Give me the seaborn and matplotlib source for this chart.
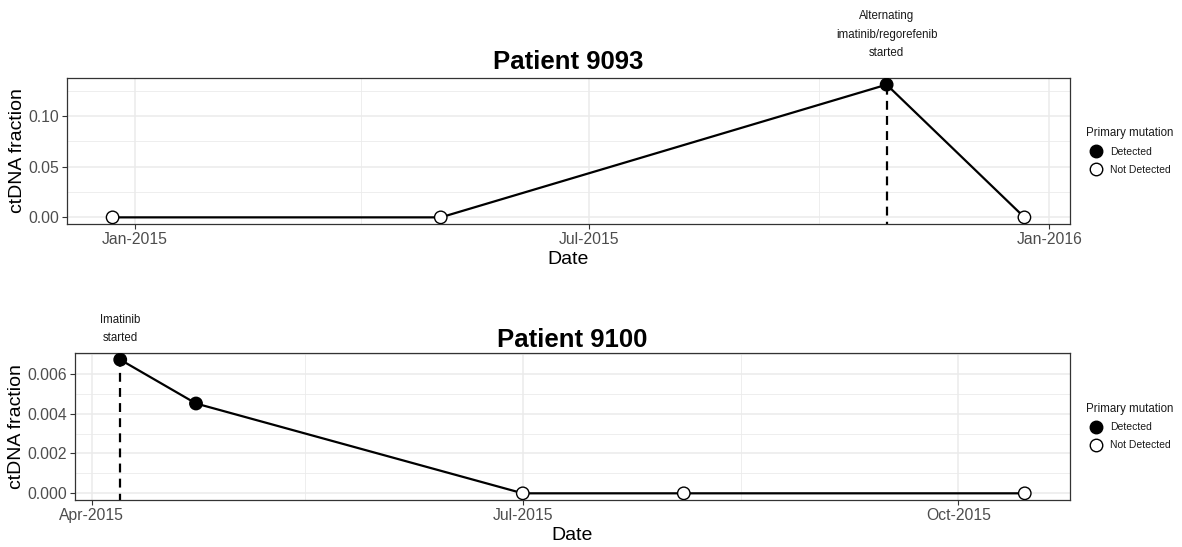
import matplotlib
matplotlib.use("Agg")
import matplotlib.pyplot as plt
import matplotlib.dates as mdates
from matplotlib.lines import Line2D
from matplotlib.ticker import FormatStrFormatter, MultipleLocator, FixedLocator
import numpy as np
import pandas as pd
import seaborn as sns

# ---- data ----
dates_9093 = ["2014-12-23", "2015-05-03", "2015-10-28", "2015-12-22"]
frac_9093 = [0.0, 0.0, 0.131, 0.0]
status_9093 = ["Not Detected", "Not Detected", "Detected", "Not Detected"]
event_9093_date = "2015-10-28"
event_9093_label = "Alternating\nimatinib/regorefenib\nstarted"

dates_9100 = ["2015-04-07", "2015-04-23", "2015-07-01", "2015-08-04", "2015-10-15"]
frac_9100 = [0.00671, 0.00451, 0.0, 0.0, 0.0]
status_9100 = ["Detected", "Detected", "Not Detected", "Not Detected", "Not Detected"]
event_9100_date = "2015-04-07"
event_9100_label = "Imatinib\nstarted"

xticks_9093 = ["2015-01-01", "2015-07-01", "2016-01-01"]
xminor_9093 = ["2015-04-01", "2015-10-01"]
xticks_9100 = ["2015-04-01", "2015-07-01", "2015-10-01"]
xminor_9100 = ["2015-05-16", "2015-08-16"]

sns.set_theme(style="white")
plt.rcParams["font.family"] = ["Liberation Sans", "DejaVu Sans"]
plt.rcParams["text.color"] = "black"

fig = plt.figure(figsize=(11.82, 5.47), dpi=100)
ax_top = fig.add_axes([67 / 1182, 1 - 224 / 547, 1003 / 1182, 146 / 547])
ax_bot = fig.add_axes([75 / 1182, 1 - 500 / 547, 995 / 1182, 147 / 547])

fill_palette = {"Detected": "black", "Not Detected": "white"}
grid_col = "#EBEBEB"


def draw_panel(ax, dates, fracs, status, ev_date, ev_label, title,
               ticks, minor, ystep, yfmt, title_y, label_y):
    df = pd.DataFrame({"date": pd.to_datetime(dates), "frac": fracs,
                       "status": status})
    ev = pd.to_datetime(ev_date)
    ev_val = df.loc[df["date"] == ev, "frac"].iloc[0]

    # treatment start marker
    ax.plot([ev, ev], [-1, ev_val], color="black", lw=1.6,
            dashes=(4, 2.8), zorder=2)
    sns.lineplot(data=df, x="date", y="frac", ax=ax, color="black",
                 lw=1.6, zorder=3, legend=False)
    sns.scatterplot(data=df, x="date", y="frac", hue="status",
                    palette=fill_palette, edgecolor="black", linewidth=1.0,
                    s=80, ax=ax, zorder=4, legend=False)

    # limits with 5% padding
    dnum = mdates.date2num(df["date"])
    span = dnum.max() - dnum.min()
    ax.set_xlim(dnum.min() - 0.05 * span, dnum.max() + 0.05 * span)
    ymax = max(fracs)
    ax.set_ylim(-0.05 * ymax, 1.05 * ymax)

    ax.xaxis.set_major_locator(FixedLocator(
        mdates.date2num(pd.to_datetime(ticks))))
    ax.xaxis.set_minor_locator(FixedLocator(
        mdates.date2num(pd.to_datetime(minor))))
    ax.xaxis.set_major_formatter(mdates.DateFormatter("%b-%Y"))
    ax.yaxis.set_major_locator(MultipleLocator(ystep))
    ax.yaxis.set_minor_locator(MultipleLocator(ystep / 2))
    ax.yaxis.set_major_formatter(FormatStrFormatter(yfmt))

    ax.grid(True, which="major", color=grid_col, lw=1.1, zorder=0)
    ax.grid(True, which="minor", color=grid_col, lw=0.6, zorder=0)
    ax.set_axisbelow(True)
    for sp in ax.spines.values():
        sp.set_color("#333333")
        sp.set_linewidth(0.9)
    ax.tick_params(axis="both", which="major", direction="out", length=3.5,
                   width=0.8, color="#333333", labelcolor="#4D4D4D",
                   labelsize=11.3, pad=2, bottom=True, left=True)
    ax.tick_params(axis="both", which="minor", length=0)

    ax.set_xlabel("Date", fontsize=14, color="black", labelpad=3)
    ax.set_ylabel("ctDNA fraction", fontsize=14, color="black", labelpad=2)

    ax.text(0.5, title_y, title, transform=ax.transAxes, ha="center",
            va="center", fontsize=18.5, fontweight="bold", color="black")
    ax.text(ev, label_y, ev_label, transform=ax.get_xaxis_transform(),
            ha="center", va="bottom", fontsize=8.3, linespacing=1.7,
            color="#1a1a1a", clip_on=False)

    handles = [
        Line2D([], [], marker="o", ls="none", markersize=9,
               markerfacecolor="black", markeredgecolor="black"),
        Line2D([], [], marker="o", ls="none", markersize=9,
               markerfacecolor="white", markeredgecolor="black",
               markeredgewidth=1.0),
    ]
    leg = ax.legend(handles, ["Detected", "Not Detected"],
                    title="Primary mutation", loc="center left",
                    bbox_to_anchor=(1.016, 0.5), frameon=False,
                    fontsize=7.5, title_fontsize=8.3, handlelength=2.0,
                    handletextpad=0.3, labelspacing=0.75,
                    borderaxespad=0.0, borderpad=0.0)
    leg._legend_box.align = "left"
    leg.get_title().set_color("#1a1a1a")
    for t in leg.get_texts():
        t.set_color("#1a1a1a")


draw_panel(ax_top, dates_9093, frac_9093, status_9093, event_9093_date,
           event_9093_label, "Patient 9093", xticks_9093, xminor_9093,
           0.05, "%.2f", 1.11, 1.13)
draw_panel(ax_bot, dates_9100, frac_9100, status_9100, event_9100_date,
           event_9100_label, "Patient 9100", xticks_9100, xminor_9100,
           0.002, "%.3f", 1.088, 1.06)

fig.savefig("out.png", dpi=100)
